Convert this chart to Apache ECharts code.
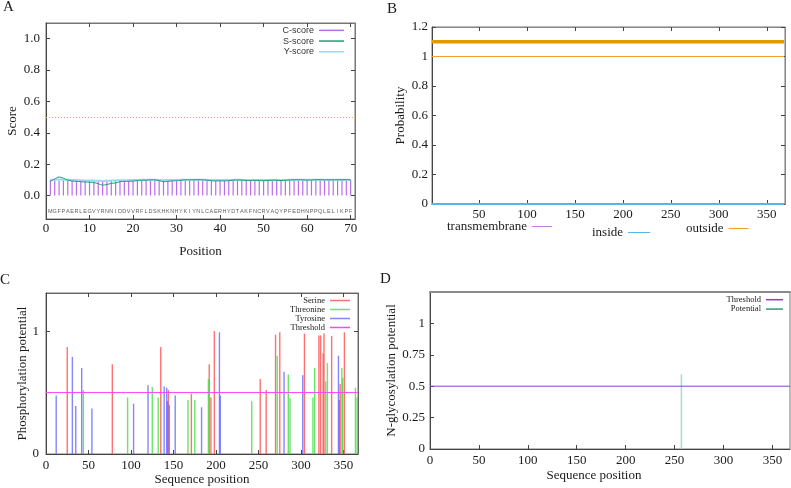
<!DOCTYPE html>
<html><head><meta charset="utf-8">
<script src="https://cdn.jsdelivr.net/npm/echarts@6/dist/echarts.min.js"></script>
<style>html,body{margin:0;padding:0;background:#fff}#c{width:791px;height:488px}</style>
</head><body><div id="c"></div>
<script>
// ---------- Panel A (SignalP) ----------
const aSequence = 'MGFPAERLEGVYRNNIDDVVRFLDSKHKNHYKIYNLCAERHYDTAKFNCRVAQYPFEDHNPPQLELIKPF';
const aCScore = [0.098,0.097,0.096,0.097,0.097,0.095,0.094,0.095,0.095,0.095,0.094,0.093,0.093,0.094,0.095,0.095,0.096,0.096,0.096,0.097,0.097,0.098,0.098,0.097,0.097,0.096,0.096,0.095,0.096,0.097,0.098,0.098,0.098,0.098,0.098,0.097,0.097,0.096,0.096,0.097,0.097,0.097,0.098,0.098,0.098,0.097,0.097,0.097,0.097,0.096,0.096,0.097,0.097,0.097,0.097,0.098,0.098,0.098,0.098,0.098,0.098,0.099,0.099,0.098,0.098,0.098,0.099,0.099,0.098,0.099];
const aSScore = [0.090,0.105,0.118,0.110,0.098,0.092,0.090,0.088,0.086,0.085,0.082,0.075,0.066,0.070,0.077,0.080,0.088,0.090,0.090,0.092,0.095,0.098,0.097,0.100,0.100,0.095,0.088,0.090,0.093,0.094,0.097,0.100,0.100,0.100,0.101,0.100,0.098,0.094,0.093,0.093,0.093,0.094,0.098,0.099,0.098,0.096,0.095,0.097,0.096,0.094,0.096,0.098,0.097,0.095,0.097,0.099,0.100,0.101,0.100,0.098,0.099,0.101,0.101,0.100,0.100,0.100,0.101,0.100,0.101,0.100];
const aYScore = [0.100,0.101,0.102,0.101,0.100,0.099,0.098,0.097,0.096,0.096,0.095,0.094,0.093,0.094,0.095,0.096,0.097,0.097,0.098,0.098,0.099,0.100,0.100,0.100,0.100,0.099,0.098,0.098,0.099,0.099,0.100,0.100,0.101,0.101,0.101,0.100,0.100,0.099,0.099,0.099,0.099,0.099,0.100,0.100,0.100,0.099,0.099,0.099,0.099,0.099,0.099,0.099,0.100,0.099,0.099,0.100,0.100,0.101,0.101,0.100,0.100,0.101,0.101,0.101,0.100,0.100,0.101,0.101,0.101,0.101];
const aCutoff = 0.5;
const aXTicks = [0,10,20,30,40,50,60,70];
const aYTicks = [0,0.2,0.4,0.6,0.8,1.0];

// ---------- Panel B (TMHMM) ----------
const bEnds = [1, 368];
const bTransmembrane = [0, 0];
const bInside = [0, 0];
const bOutside = [1, 1];
const bOutsideTopology = [1.1, 1.1];
const bXTicks = [50,100,150,200,250,300,350];
const bYTicks = [0,0.2,0.4,0.6,0.8,1,1.2];

// ---------- Panel C (NetPhos) ----------
const cSerine = [[25,0.87],[78,0.73],[135,0.87],[144,0.52],[171,0.49],[192,0.73],[194,0.46],[198,1.0],[252,0.61],[259,0.52],[270,0.97],[275,0.99],[304,0.98],[321,0.965],[323,0.965],[326,0.82],[327,0.98],[336,0.96],[346,0.57],[351,0.99]];
const cThreonine = [[44,0.52],[96,0.46],[125,0.546],[132,0.46],[167,0.44],[175,0.44],[191,0.61],[242,0.43],[272,0.80],[285,0.647],[287,0.454],[314,0.46],[316,0.70],[329,0.59],[331,0.74],[348,0.70],[349,0.62],[364,0.54],[366,0.46]];
const cTyrosine = [[12,0.476],[31,0.79],[35,0.39],[42,0.70],[54,0.37],[103,0.41],[120,0.56],[139,0.55],[142,0.54],[143,0.43],[145,0.40],[152,0.475],[183,0.38],[204,0.99],[205,0.475],[280,0.67],[302,0.64],[344,0.80],[345,0.44]];
const cThreshold = 0.5;
const cEnds = [0, 367];
const cXTicks = [0,50,100,150,200,250,300,350];
const cYTicks = [0,1];

// ---------- Panel D (NetNGlyc) ----------
const dPotential = [[257,0.595]];
const dThreshold = 0.5;
const dEnds = [0, 368];
const dXTicks = [0,50,100,150,200,250,300,350];
const dYTicks = [0,0.25,0.5,0.75,1];

const SERIF = '"Liberation Serif","Times New Roman",serif';
const SANS = '"Liberation Sans",Arial,sans-serif';
const TXT = '#1a1a1a';

function xAx(grid, min, max, ticks, o) {
  o = o || {};
  return {
    type:'value', gridIndex:grid, min:min, max:max, position:o.top?'top':'bottom',
    axisLine:{show:true, onZero:false, lineStyle:{color:o.lineColor||'#444', width:o.lineWidth||1}},
    axisTick:{show:!o.noTicks, inside:true, length:4, customValues:ticks, lineStyle:{color:'#444'}},
    axisLabel:{show:!o.top, customValues:ticks, margin:o.margin||4, fontFamily:SERIF, fontSize:13, color:TXT, formatter:o.fmt},
    splitLine:{show:false},
    name:o.name||'', nameLocation:'middle', nameGap:o.nameGap||20,
    nameTextStyle:Object.assign({fontFamily:SERIF, fontSize:13, color:TXT}, o.nameStyle||{})
  };
}
function yAx(grid, min, max, ticks, o) {
  o = o || {};
  return {
    type:'value', gridIndex:grid, min:min, max:max, position:o.right?'right':'left',
    axisLine:{show:true, onZero:false, lineStyle:{color:o.lineColor||'#444', width:1}},
    axisTick:{show:true, inside:true, length:4, customValues:ticks, lineStyle:{color:'#444'}},
    axisLabel:{show:!o.right, customValues:ticks, margin:o.margin||5, fontFamily:SERIF, fontSize:13, color:TXT, formatter:o.fmt},
    splitLine:{show:false},
    name:o.name||'', nameLocation:'middle', nameGap:o.nameGap||20, nameRotate:90,
    nameTextStyle:{fontFamily:SERIF, fontSize:13, color:TXT}
  };
}

const grids = [
  {left:46, top:23, width:309, height:196},
  {left:432, top:27, width:353, height:177},
  {left:46, top:293, width:312, height:161},
  {left:430, top:292, width:360, height:157}
].map(g => Object.assign(g, {show:true, borderColor:'#777', borderWidth:1}));

const xAxes = [
  xAx(0, 0, 71, aXTicks, {margin:3, name:'Position', nameGap:26}),
  xAx(0, 0, 71, aXTicks, {top:true, lineColor:'#777'}),
  xAx(1, bEnds[0], 369, bXTicks, {margin:4}),
  xAx(1, bEnds[0], 369, bXTicks, {top:true, lineColor:'#888'}),
  xAx(2, cEnds[0], cEnds[1], cXTicks, {margin:5, name:'Sequence position', nameGap:18}),
  xAx(2, cEnds[0], cEnds[1], cXTicks, {top:true, lineColor:'#666'}),
  xAx(3, dEnds[0], dEnds[1], dXTicks, {margin:5, name:'Sequence position', nameGap:20, nameStyle:{padding:[0,32,0,0]}}),
  xAx(3, dEnds[0], dEnds[1], dXTicks, {top:true, noTicks:true, lineColor:'#8a8a8a', lineWidth:2})
];
const yAxes = [
  yAx(0, -0.15, 1.1, aYTicks, {margin:6, fmt:v=>v.toFixed(1), name:'Score', nameGap:27}),
  yAx(0, -0.15, 1.1, aYTicks, {right:true, lineColor:'#777'}),
  yAx(1, 0, 1.2, bYTicks, {margin:4, name:'Probability', nameGap:25}),
  yAx(1, 0, 1.2, bYTicks, {right:true, lineColor:'#888'}),
  yAx(2, 0, 1.31, cYTicks, {margin:7, name:'Phosphorylation potential', nameGap:12}),
  yAx(2, 0, 1.31, cYTicks, {right:true, lineColor:'#666'}),
  yAx(3, 0, 1.25, dYTicks, {margin:5, name:'N-glycosylation potential', nameGap:31})
];

const seqLabelY = -0.1;
const ends2 = (ends, vals) => ends.map((x,i)=>[x, vals[i]]);

const series = [
  // A
  {type:'bar', name:'C-score', xAxisIndex:0, yAxisIndex:0, barWidth:1.2, color:'#a848e8',
   itemStyle:{opacity:0.8}, data:aCScore.map((v,i)=>[i+1,v]), z:2},
  {type:'line', name:'Y-score', xAxisIndex:0, yAxisIndex:0, color:'#9fd6f2', symbol:'none', smooth:0.3,
   lineStyle:{width:2}, data:aYScore.map((v,i)=>[i+1,v]), z:3,
   markLine:{silent:true, symbol:'none', label:{show:false}, data:[{yAxis:aCutoff}],
     lineStyle:{color:'#f0b020', type:[1,2], width:1}}},
  {type:'line', name:'S-score', xAxisIndex:0, yAxisIndex:0, color:'#1f9e78', symbol:'none', smooth:0.3,
   lineStyle:{width:1}, data:aSScore.map((v,i)=>[i+1,v]), z:4},
  {type:'scatter', name:'sequence', xAxisIndex:0, yAxisIndex:0, symbolSize:1, itemStyle:{color:'transparent'},
   data:aSequence.split('').map((ch,i)=>[i+1, seqLabelY, ch]),
   label:{show:true, position:'inside', formatter:p=>p.value[2], fontFamily:SANS, fontSize:5.5, color:'#333'}},
  // B
  {type:'line', name:'transmembrane', xAxisIndex:2, yAxisIndex:2, color:'#c77ddc', symbol:'none', lineStyle:{width:1}, data:ends2(bEnds,bTransmembrane)},
  {type:'line', name:'inside', xAxisIndex:2, yAxisIndex:2, color:'#56b4e9', symbol:'none', lineStyle:{width:2}, data:ends2(bEnds,bInside)},
  {type:'line', name:'outside', xAxisIndex:2, yAxisIndex:2, color:'#f0a030', symbol:'none', lineStyle:{width:1}, data:ends2(bEnds,bOutside)},
  {type:'line', name:'outside topology', xAxisIndex:2, yAxisIndex:2, color:'#e69600', symbol:'none', lineStyle:{width:3.5}, data:ends2(bEnds,bOutsideTopology)},
  // C
  {type:'bar', name:'Serine', xAxisIndex:4, yAxisIndex:4, barWidth:1.4, color:'#ff4d4d', itemStyle:{opacity:0.8}, data:cSerine},
  {type:'bar', name:'Threonine', xAxisIndex:4, yAxisIndex:4, barWidth:1.4, color:'#45dd45', itemStyle:{opacity:0.8}, barGap:'-100%', data:cThreonine},
  {type:'bar', name:'Tyrosine', xAxisIndex:4, yAxisIndex:4, barWidth:1.4, color:'#6666ff', itemStyle:{opacity:0.8}, barGap:'-100%', data:cTyrosine},
  {type:'line', name:'Threshold', xAxisIndex:4, yAxisIndex:4, color:'#ff44ff', symbol:'none', lineStyle:{width:1}, data:cEnds.map(x=>[x,cThreshold])},
  // D
  {type:'line', name:'Threshold', xAxisIndex:6, yAxisIndex:6, color:'#8a3fcc', symbol:'none', lineStyle:{width:1}, data:dEnds.map(x=>[x,dThreshold])},
  {type:'bar', name:'Potential', xAxisIndex:6, yAxisIndex:6, barWidth:1.5, color:'#a6dccd', data:dPotential}
];

const legBase = {icon:'rect', align:'right', selectedMode:false, padding:0};
const legends = [
  Object.assign({}, legBase, {data:['C-score','S-score','Y-score'], orient:'vertical', right:447, top:25,
    itemWidth:25, itemHeight:1.5, itemGap:0, textStyle:{fontFamily:SANS, fontSize:9, color:'#333', lineHeight:10.7}}),
  Object.assign({}, legBase, {data:['transmembrane'], left:447, top:220, itemWidth:20, itemHeight:1, textStyle:{fontFamily:SERIF, fontSize:13, color:TXT}}),
  Object.assign({}, legBase, {data:['inside'], left:592, top:226, itemWidth:22, itemHeight:1, textStyle:{fontFamily:SERIF, fontSize:13, color:TXT}}),
  Object.assign({}, legBase, {data:['outside'], left:686, top:222, itemWidth:20, itemHeight:1, textStyle:{fontFamily:SERIF, fontSize:13, color:TXT}}),
  Object.assign({}, legBase, {data:['Serine','Threonine','Tyrosine',{name:'Threshold', itemStyle:{color:'#ff44ff'}}], orient:'vertical', right:441, top:296,
    itemWidth:20, itemHeight:1.5, itemGap:0, textStyle:{fontFamily:SERIF, fontSize:8.5, color:TXT, lineHeight:8.7}}),
  Object.assign({}, legBase, {data:[{name:'Threshold', itemStyle:{color:'#8a3fcc'}},{name:'Potential', itemStyle:{color:'#2f9c74'}}], orient:'vertical', right:8, top:295,
    itemWidth:17, itemHeight:1.5, itemGap:0, textStyle:{fontFamily:SERIF, fontSize:8.5, color:TXT, lineHeight:9.4}})
];

const panelLabel = (t, x, y) => ({type:'text', left:x, top:y, style:{text:t, fontFamily:SERIF, fontSize:15, fill:TXT}});

const chart = echarts.init(document.getElementById('c'), null, {renderer:'canvas'});
chart.setOption({
  animation:false,
  backgroundColor:'#fff',
  grid:grids, xAxis:xAxes, yAxis:yAxes, series:series, legend:legends,
  graphic:[panelLabel('A',3,0), panelLabel('B',387,2), panelLabel('C',0,273), panelLabel('D',380,272)]
});
</script></body></html>
